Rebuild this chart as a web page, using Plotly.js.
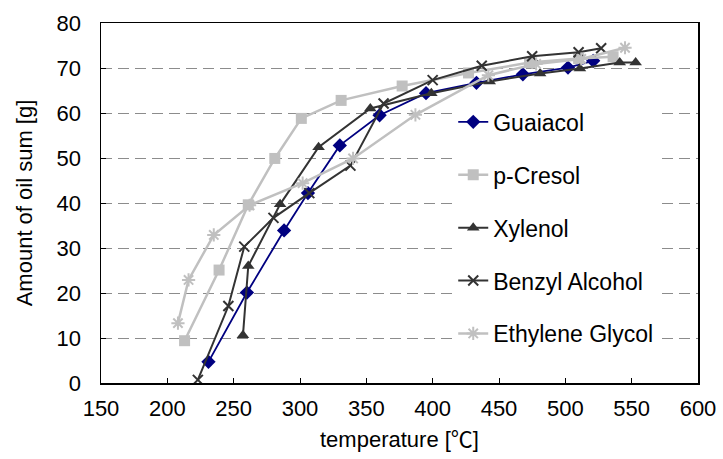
<!DOCTYPE html>
<html>
<head>
<meta charset="utf-8">
<script src="https://cdn.plot.ly/plotly-3.0.1.min.js"></script>
<style>html,body{margin:0;padding:0;background:#fff;}#chart{width:723px;height:459px;}</style>
</head>
<body>
<div id="chart"></div>
<script>
// ---- data ----
const seriesNames = ["Guaiacol", "p-Cresol", "Xylenol", "Benzyl Alcohol", "Ethylene Glycol"];

const guaiacolT = [231, 260, 288, 306, 330, 360, 395, 433, 468, 502, 521];
const guaiacolY = [4.7, 20.1, 33.9, 42.2, 52.8, 59.5, 64.4, 66.7, 68.6, 70.1, 71.6];

const cresolT = [213, 239, 261, 281, 301, 331, 377, 427, 473, 510, 536];
const cresolY = [9.4, 25.1, 39.6, 49.9, 58.8, 62.8, 66.0, 68.9, 71.2, 72.1, 72.5];

const xylenolT = [257, 261, 285, 314, 353, 399, 443, 481, 511, 541, 553];
const xylenolY = [10.6, 26.0, 39.7, 52.4, 61.0, 64.4, 67.0, 68.8, 69.9, 71.2, 71.2];

const benzylT = [223, 246, 258, 280, 307, 338, 363, 400, 437, 475, 510, 527];
const benzylY = [0.7, 17.1, 30.3, 36.7, 42.2, 48.3, 62.1, 67.3, 70.5, 72.6, 73.5, 74.4];

const glycolT = [208, 216, 235, 262, 302, 340, 387, 442, 478, 512, 545];
const glycolY = [13.3, 22.9, 32.9, 39.5, 44.4, 49.9, 59.6, 68.4, 70.9, 72.0, 74.5];

const xTickVals = [150, 200, 250, 300, 350, 400, 450, 500, 550, 600];
const yTickVals = [0, 10, 20, 30, 40, 50, 60, 70, 80];

// ---- styles ----
const FONT = '"Liberation Sans", Arial, sans-serif';
const GRAY = '#C0C0C0', DARK = '#333333', NAVY = '#000080';

const traces = [
  {x: guaiacolT, y: guaiacolY, name: seriesNames[0], legendgroup: 'a',
   line: {color: NAVY, width: 1.8}, marker: {symbol: 'diamond', size: 11, color: NAVY}},
  {x: cresolT, y: cresolY, name: seriesNames[1], legendgroup: 'b',
   line: {color: GRAY, width: 2.5}, marker: {symbol: 'square', size: 11, color: GRAY}},
  {x: xylenolT, y: xylenolY, name: seriesNames[2], legendgroup: 'c',
   line: {color: DARK, width: 2}, marker: {symbol: 'triangle-up', size: 11, color: DARK}},
  {x: benzylT, y: benzylY, name: seriesNames[3], legendgroup: 'd',
   line: {color: DARK, width: 2}, marker: {symbol: 'x-thin', size: 10, line: {color: DARK, width: 2}}},
  {x: glycolT, y: glycolY, name: seriesNames[4], legendgroup: 'e',
   line: {color: GRAY, width: 2.5}, marker: {symbol: 'asterisk-open', size: 11, line: {color: GRAY, width: 2}}}
].map(t => Object.assign({type: 'scatter', mode: 'lines+markers'}, t));

const layout = {
  width: 723, height: 459,
  margin: {l: 101, r: 25, t: 23, b: 76},
  paper_bgcolor: '#fff', plot_bgcolor: '#fff',
  font: {family: FONT, size: 22, color: '#000'},
  showlegend: true,
  legend: {
    x: 0.59, y: 0.785, xanchor: 'left', yanchor: 'top',
    bgcolor: '#fff', borderwidth: 0,
    font: {family: FONT, size: 23, color: '#000'},
    traceorder: 'grouped', tracegroupgap: 20
  },
  shapes: [{
    type: 'rect', layer: 'between', xref: 'paper', yref: 'paper',
    x0: 0.555, x1: 0.994, y0: 0.05, y1: 0.78,
    fillcolor: '#fff', line: {width: 0}
  }],
  xaxis: {
    range: [150, 600], tickvals: xTickVals, ticks: 'inside', ticklen: 5,
    tickcolor: '#000', showline: true, linecolor: '#000', linewidth: 1.5, mirror: true,
    showgrid: false, zeroline: false, ticklabelstandoff: 5,
    tickfont: {family: FONT, size: 22},
    title: {text: 'temperature [<span style="font-family:\'Noto Sans CJK JP\'">℃</span>]',
            font: {family: FONT, size: 22}, standoff: 6}
  },
  yaxis: {
    range: [0, 80], tickvals: yTickVals, ticks: 'inside', ticklen: 5,
    tickcolor: '#000', showline: true, linecolor: '#000', linewidth: 1.5, mirror: true,
    showgrid: true, gridcolor: '#8c8c8c', gridwidth: 1, griddash: '11px,6px',
    zeroline: false, ticklabelstandoff: 14,
    tickfont: {family: FONT, size: 22},
    title: {text: 'Amount of oil sum [g]', font: {family: FONT, size: 22}, standoff: 18}
  }
};

Plotly.newPlot('chart', traces, layout, {displayModeBar: false, staticPlot: true});
</script>
</body>
</html>
